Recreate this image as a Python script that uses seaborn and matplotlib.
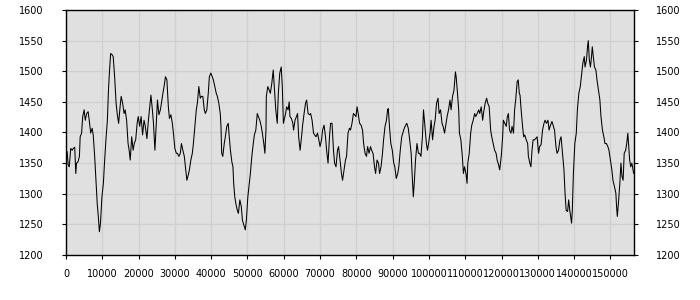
import matplotlib
matplotlib.use("Agg")
import matplotlib.pyplot as plt
import seaborn as sns
import pandas as pd

# x positions in thousands of steps
x_k = [
    0, 0.3, 0.6, 0.9, 1.3, 1.7, 2.0, 2.4, 2.7, 2.9, 3.3, 3.7, 3.9, 4.3, 4.6, 5.0, 5.3, 5.7, 6.1, 6.4,
    6.8, 7.2, 7.5, 7.9, 8.3, 8.6, 8.9, 9.2, 9.5, 9.9, 10.3, 10.6, 11.0, 11.4, 11.7, 12.0, 12.3, 12.7, 13.0, 13.4,
    13.8, 14.1, 14.5, 14.9, 15.2, 15.6, 16.0, 16.3, 16.7, 17.1, 17.4, 17.7, 18.1, 18.5, 18.8, 19.2, 19.6, 19.9, 20.3,
    20.7, 21.1, 21.5, 21.8, 22.3, 22.7, 23.0, 23.4, 23.8, 24.1, 24.5, 24.9, 25.2, 25.6, 26.0, 26.3, 26.7, 27.1, 27.4, 27.8,
    28.2, 28.5, 28.9, 29.3, 29.6, 30.0, 30.4, 30.7, 31.1, 31.5, 31.8, 32.2, 32.6, 32.9, 33.3, 33.7, 34.0, 34.4, 34.8, 35.1,
    35.5, 35.9, 36.2, 36.6, 37.0, 37.3, 37.7, 38.1, 38.4, 38.8, 39.2, 39.5, 39.9, 40.3,
    40.6, 41.0, 41.4, 41.7, 42.1, 42.5, 42.7, 42.9, 43.2, 43.6, 43.9, 44.3, 44.7, 44.9, 45.3, 45.7, 46.0, 46.2, 46.5, 46.8,
    47.2, 47.5, 47.9, 48.3, 48.6, 49.0, 49.4, 49.7, 50.1, 50.5, 50.8, 51.2, 51.6, 51.9, 52.3, 52.7, 53.0, 53.4, 53.8, 54.1,
    54.5, 54.8, 55.1, 55.2, 55.6, 56.0, 56.3, 56.7, 57.1, 57.4, 57.8, 58.2, 58.5, 58.9, 59.3, 59.6, 59.9, 60.3,
    60.5, 60.8, 61.2, 61.5, 61.7, 62.1, 62.5, 62.7, 63.1, 63.5, 63.8, 64.1, 64.5, 64.9, 65.2, 65.6, 66.0, 66.3, 66.7, 67.1,
    67.4, 67.8, 68.2, 68.5, 68.9, 69.3, 69.6, 70.0, 70.4, 70.7, 71.1, 71.5, 71.8, 72.2, 72.6, 72.9, 73.3, 73.7, 74.0, 74.4,
    74.8, 75.1, 75.5, 75.9, 76.2, 76.6, 77.0, 77.3, 77.7, 78.1, 78.4, 78.8, 79.2, 79.5, 79.9,
    80.2, 80.5, 80.9, 81.3, 81.7, 82.0, 82.4, 82.8, 83.1, 83.5, 83.9, 84.2, 84.6, 85.0, 85.3, 85.7, 86.1, 86.4, 86.8, 87.2,
    87.5, 87.9, 88.3, 88.6, 88.8, 89.2, 89.5, 89.9, 90.3, 90.6, 91.0, 91.4, 91.7, 92.1, 92.5, 92.8, 93.2, 93.6, 93.9, 94.3,
    94.7, 95.1, 95.4, 95.7, 96.0, 96.3, 96.7, 97.1, 97.4, 97.8, 98.2, 98.5, 98.9, 99.3, 99.6,
    99.9, 100.3, 100.6, 101.0, 101.4, 101.7, 102.1, 102.5, 102.8, 103.2, 103.6, 103.9, 104.3, 104.7, 105.0, 105.4, 105.8,
    106.1, 106.5, 106.9, 107.3, 107.5, 107.8, 108.2, 108.4, 108.8, 109.2, 109.5, 109.8, 110.2, 110.5, 110.7, 111.1, 111.5,
    111.8, 112.2, 112.6, 112.9, 113.3, 113.7, 114.0, 114.4, 114.8, 115.1, 115.5, 115.9, 116.2, 116.6, 117.0, 117.3, 117.7,
    118.1, 118.5, 118.8, 119.2, 119.5,
    120.0, 120.3, 120.5, 120.9, 121.3, 121.6, 121.9, 122.2, 122.6, 122.9, 123.3, 123.6, 123.9, 124.3, 124.6, 124.9, 125.1,
    125.4, 125.8, 126.1, 126.4, 126.8, 127.2, 127.4, 127.8, 128.1, 128.4, 128.7, 129.1, 129.4, 129.8, 130.2, 130.5, 130.9,
    131.3, 131.7, 132.0, 132.4, 132.8, 133.1, 133.5, 133.9, 134.2, 134.6, 135.0, 135.3, 135.7, 136.1, 136.4, 136.8, 137.2,
    137.5, 137.8, 138.2, 138.5, 138.8,
    139.3, 139.5, 139.8, 140.2, 140.6, 140.9, 141.3, 141.7, 142.0, 142.4, 142.8, 143.0, 143.4, 143.7, 143.9, 144.2, 144.5,
    144.8, 145.0, 145.3, 145.6, 146.0, 146.3, 146.7, 147.1, 147.4, 147.8, 148.2, 148.5, 148.9, 149.3, 149.6, 150.0, 150.4,
    150.7, 151.1, 151.5, 151.7, 151.9, 152.2, 152.6, 152.9, 153.2, 153.5, 153.8, 154.2, 154.5, 154.8, 155.0, 155.3, 155.6,
    155.9, 156.1, 156.4,
]

values = [
    1366, 1369, 1347, 1344, 1374, 1371, 1374, 1376, 1333, 1350, 1352, 1361, 1393, 1399, 1426, 1437, 1420, 1431, 1434, 1420,
    1399, 1407, 1396, 1361, 1317, 1284, 1263, 1238, 1252, 1295, 1317, 1350, 1388, 1420, 1469, 1502, 1529, 1527, 1524, 1491,
    1448, 1431, 1415, 1442, 1459, 1448, 1431, 1437, 1420, 1382, 1371, 1355, 1393, 1371, 1382, 1388, 1415, 1426, 1410,
    1426, 1396, 1420, 1412, 1390, 1420, 1437, 1461, 1437, 1415, 1371, 1420, 1453, 1429, 1437, 1448, 1464, 1478, 1491, 1486,
    1442, 1423, 1429, 1415, 1399, 1374, 1366, 1366, 1361, 1366, 1382, 1371, 1361, 1344, 1322, 1331, 1339, 1355, 1366, 1382,
    1410, 1437, 1448, 1475, 1456, 1459, 1459, 1437, 1431, 1437, 1464, 1491, 1497, 1491,
    1486, 1475, 1464, 1459, 1448, 1431, 1410, 1366, 1361, 1382, 1393, 1410, 1415, 1399, 1371, 1352, 1344, 1317, 1295, 1284,
    1273, 1268, 1290, 1279, 1257, 1249, 1241, 1257, 1295, 1317, 1333, 1361, 1382, 1396, 1404, 1431, 1426, 1420, 1410, 1399,
    1382, 1366, 1404, 1459, 1475, 1469, 1464, 1480, 1502, 1475, 1437, 1415, 1464, 1497, 1507, 1475, 1415, 1426,
    1431, 1442, 1437, 1450, 1426, 1423, 1415, 1404, 1420, 1426, 1431, 1393, 1371, 1393, 1412, 1431, 1448, 1453, 1431, 1429,
    1431, 1420, 1399, 1396, 1393, 1399, 1390, 1377, 1388, 1404, 1412, 1393, 1371, 1350, 1393, 1415, 1415, 1371, 1350, 1344,
    1371, 1377, 1355, 1333, 1322, 1339, 1355, 1361, 1399, 1407, 1404, 1415, 1431, 1429, 1426,
    1442, 1431, 1415, 1412, 1404, 1382, 1366, 1361, 1377, 1366, 1377, 1371, 1366, 1344, 1333, 1355, 1350, 1333, 1344, 1366,
    1388, 1410, 1420, 1437, 1439, 1404, 1382, 1371, 1350, 1344, 1325, 1333, 1344, 1371, 1393, 1399, 1407, 1412, 1415, 1407,
    1388, 1366, 1328, 1295, 1322, 1355, 1382, 1366, 1366, 1361, 1393, 1437, 1410, 1382, 1371,
    1382, 1399, 1420, 1388, 1410, 1420, 1448, 1456, 1431, 1437, 1415, 1410, 1399, 1415, 1426, 1437, 1453,
    1437, 1459, 1469, 1499, 1491, 1469, 1437, 1399, 1388, 1361, 1333, 1344, 1333, 1317, 1350, 1366, 1399,
    1412, 1420, 1431, 1426, 1431, 1437, 1431, 1442, 1420, 1434, 1448, 1456, 1448, 1442, 1404, 1393, 1382,
    1371, 1366, 1355, 1347, 1339,
    1366, 1393, 1420, 1415, 1410, 1426, 1431, 1404, 1399, 1410, 1399, 1437, 1453, 1483, 1486, 1464, 1461,
    1437, 1410, 1393, 1396, 1388, 1382, 1361, 1350, 1344, 1371, 1388, 1388, 1390, 1393, 1366, 1377, 1380,
    1404, 1415, 1420, 1415, 1420, 1404, 1412, 1418, 1412, 1404, 1377, 1366, 1371, 1388, 1393, 1366, 1339,
    1301, 1273, 1271, 1290, 1273,
    1252, 1273, 1333, 1382, 1399, 1437, 1464, 1475, 1491, 1513, 1524, 1507, 1518, 1540, 1550, 1518, 1507,
    1524, 1540, 1524, 1507, 1502, 1486, 1469, 1453, 1426, 1404, 1393, 1382, 1382, 1377, 1371, 1355, 1339,
    1322, 1312, 1301, 1279, 1263, 1284, 1317, 1350, 1328, 1322, 1366, 1371, 1382, 1399, 1382, 1355, 1344,
    1350, 1344, 1333,
]

x_ticks = [0, 10000, 20000, 30000, 40000, 50000, 60000, 70000, 80000,
           90000, 100000, 110000, 120000, 130000, 140000, 150000]
x_tick_labels = [str(t) for t in x_ticks]
y_ticks = [1200, 1250, 1300, 1350, 1400, 1450, 1500, 1550, 1600]
y_tick_labels = [str(t) for t in y_ticks]

n = min(len(x_k), len(values))
df = pd.DataFrame({"step": [v * 1000 for v in x_k[:n]], "value": values[:n]})

sns.set_style("ticks")
plt.rcParams["font.family"] = ["DejaVu Sans"]

fig = plt.figure(figsize=(7, 3), dpi=100)
ax = fig.add_axes([66 / 700, 45 / 300, 568 / 700, 245 / 300])
ax.set_facecolor("#e0e0e0")

sns.lineplot(data=df, x="step", y="value", color="black", linewidth=0.75, ax=ax)

ax.set_xlim(0, 156500)
ax.set_ylim(1200, 1600)
ax.set_xticks(x_ticks)
ax.set_xticklabels(x_tick_labels)
ax.set_yticks(y_ticks)
ax.set_yticklabels(y_tick_labels)
ax.grid(True, color="#d0d0d0", linewidth=0.9)
ax.set_axisbelow(True)
for s in ax.spines.values():
    s.set_visible(True)
    s.set_color("black")
    s.set_linewidth(1.0)

ax.tick_params(axis="y", which="both", left=True, right=True, labelleft=True, labelright=True,
               length=3, width=0.8, color="black", pad=13, labelsize=7, labelcolor="black")
ax.tick_params(axis="x", length=3, width=0.8, color="black", pad=7, labelsize=7, labelcolor="black")
ax.set_xlabel("")
ax.set_ylabel("")

fig.savefig("out.png", dpi=100)
